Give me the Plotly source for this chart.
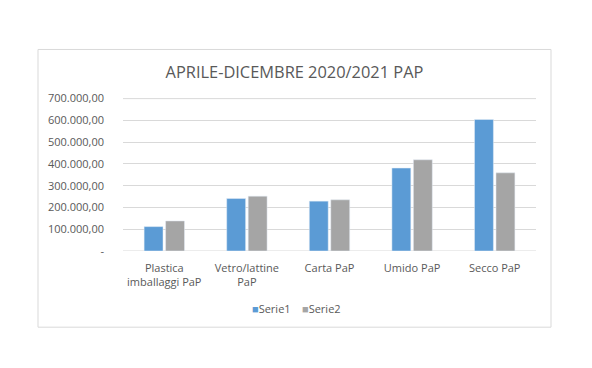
import plotly.graph_objects as go

categories = ["Plastica<br>imballaggi PaP", "Vetro/lattine<br>PaP", "Carta PaP", "Umido PaP", "Secco PaP"]
series_names = ["Serie1", "Serie2"]
serie1 = [112000, 241000, 229000, 381000, 604000]
serie2 = [138000, 252000, 235000, 419000, 359000]
tick_vals = [0, 100000, 200000, 300000, 400000, 500000, 600000, 700000]
tick_text = ["-", "100.000,00", "200.000,00", "300.000,00", "400.000,00", "500.000,00", "600.000,00", "700.000,00"]
colors = ["#5B9BD5", "#A5A5A5"]

OFF = 8  # page body margin
W, H = 592 - OFF, 368 - OFF
L, R, T, B = 123 - OFF, 536 - OFF, 99 - OFF, 251 - OFF
YMAX = 700000 * 1.004
T_adj = B - (B - T) * 1.004

def px_x(p):
    return (p - OFF - L) / (R - L)

def px_y(p):
    return (B - (p - OFF)) / (B - T_adj)

font_fam = "Open Sans, Liberation Sans, sans-serif"
txt = "#595959"

fig = go.Figure()
fig.add_trace(go.Bar(name=series_names[0], x=categories, y=serie1, marker=dict(color=colors[0])))
fig.add_trace(go.Bar(name=series_names[1], x=categories, y=serie2, marker=dict(color=colors[1])))

fig.update_layout(
    width=W, height=H,
    margin=dict(l=L, r=W - R, t=T_adj, b=H - B, pad=0, autoexpand=False),
    paper_bgcolor="white", plot_bgcolor="white",
    barmode="group", bargap=0.48, bargroupgap=0.12,
    font=dict(family=font_fam, size=11, color=txt),
    title=dict(text="APRILE-DICEMBRE 2020/2021 PAP", x=(294.5 - OFF) / W, xanchor="center",
               y=1 - (72 - OFF) / H, yanchor="middle", font=dict(size=16.4, color=txt, family=font_fam)),
    xaxis=dict(showgrid=False, showline=False, ticks="", ticklabelstandoff=9,
               tickfont=dict(size=11, color=txt)),
    yaxis=dict(range=[0, YMAX], tickvals=tick_vals, ticktext=tick_text, showgrid=True,
               gridcolor="#D9D9D9", gridwidth=1, zeroline=False, showline=False, ticks="",
               ticklabelstandoff=18, tickfont=dict(size=11, color=txt)),
    showlegend=False,
    shapes=[dict(type="rect", xref="paper", yref="paper", x0=px_x(38), x1=px_x(551),
                 y0=px_y(327), y1=px_y(50), line=dict(color="#D9D9D9", width=1), layer="below")],
)
for yv in (tick_vals[0], tick_vals[-1]):
    fig.add_shape(type="line", xref="paper", yref="y", x0=0, x1=1, y0=yv, y1=yv,
                  line=dict(color="#D9D9D9", width=1), layer="below")

legend_x = [250, 300]
for name, col, lx in zip(series_names, colors, legend_x):
    fig.add_annotation(xref="paper", yref="paper", x=px_x(lx), y=px_y(308), xanchor="left",
                       yanchor="middle", showarrow=False,
                       text=f"<span style='color:{col};font-size:11px'>■</span>{name}",
                       font=dict(size=11, color=txt, family=font_fam))

fig.write_html("out.html")
